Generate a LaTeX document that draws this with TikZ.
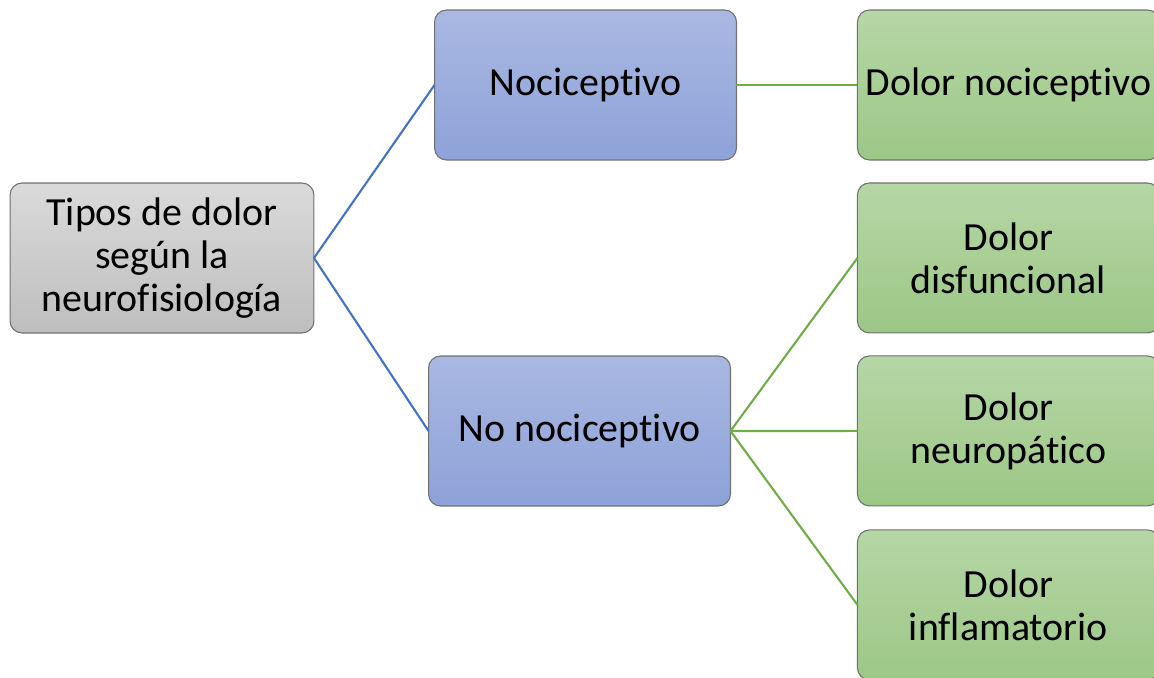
\documentclass[tikz,border=0pt]{standalone}
\usepackage{fontspec}
\setmainfont[Ligatures={NoCommon}]{Carlito}
\usepackage{tikz}
\usetikzlibrary{positioning,arrows,calc}

\definecolor{boxline}{RGB}{112,112,112}
\definecolor{linkblue}{RGB}{68,114,196}
\definecolor{linkgreen}{RGB}{112,173,71}

\tikzset{
  box/.style={draw=boxline, line width=0.6pt, rounded corners=0.24cm,
    minimum height=3cm, align=center, inner sep=2pt, outer sep=0pt,
    font=\fontsize{22.7}{24.5}\selectfont},
  rootbox/.style={box, minimum width=6.08cm, top color={rgb,255:red,218;green,218;blue,218}, bottom color={rgb,255:red,190;green,190;blue,190}},
  midbox/.style={box, minimum width=6.04cm, top color={rgb,255:red,170;green,184;blue,226}, bottom color={rgb,255:red,141;green,162;blue,216}},
  leafbox/.style={box, minimum width=6.04cm, top color={rgb,255:red,182;green,214;blue,166}, bottom color={rgb,255:red,156;green,199;blue,134}},
  bluelink/.style={draw=linkblue, line width=1.2pt},
  greenlink/.style={draw=linkgreen, line width=1.2pt}
}

\begin{document}
\begin{tikzpicture}[x=0.02cm, y=-0.02cm]

  \clip (0,0) rectangle (1154,677);

  \node[rootbox] (p0) at (162,258) {Tipos de dolor\\según la\\neurofisiología};
  \node[midbox] (p1) at (585.5,85) {Nociceptivo};
  \node[midbox] (p2) at (579.5,431) {No nociceptivo};
  \node[leafbox] (p3) [right=2.42cm of p1] {Dolor nociceptivo};
  \node[leafbox] (p4) [below=0.46cm of p3] {Dolor\\disfuncional};
  \node[leafbox] (p5) [below=0.46cm of p4] {Dolor\\neuropático};
  \node[leafbox] (p6) [below=0.48cm of p5] {Dolor\\inflamatorio};

  \path[bluelink] (p0.east) edge (p1.west);
  \path[bluelink] (p0.east) edge (p2.west);
  \path[greenlink] (p1.east) edge (p3.west);
  \path[greenlink] (p2.east) edge (p4.west);
  \path[greenlink] (p2.east) edge (p5.west);
  \path[greenlink] (p2.east) edge (p6.west);

\end{tikzpicture}
\end{document}
